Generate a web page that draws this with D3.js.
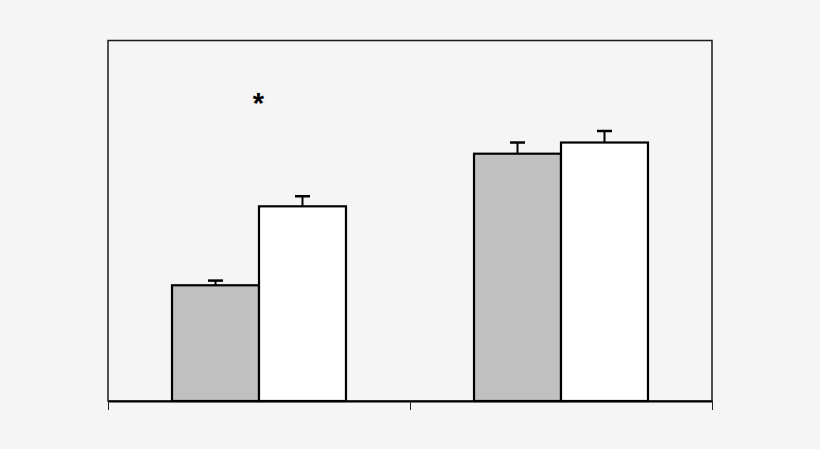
<!DOCTYPE html>
<html><head><meta charset="utf-8">
<script src="https://cdn.jsdelivr.net/npm/d3@7"></script>
<style>html,body{margin:0;padding:0;background:#f5f5f5;}svg{display:block;}</style>
</head><body>
<svg id="c" width="820" height="449"></svg>
<script>
const groups = ["A", "B"];
const series = ["Control", "Treated"];
const values = [[32.1, 54.0], [68.6, 71.7]];
const errors = [[1.3, 2.8], [3.1, 3.2]];
const fills = ["#c0c0c0", "#ffffff"];
const annotations = [{group: "A", series: "Control", text: "*", value: 80}];

(function () {
const svg = d3.select("#c");
const mLeft = 108, mRight = 712, mTop = 40.5, mBottom = 401;
const y = d3.scaleLinear().domain([0, 100]).range([mBottom, mTop]);
const x0 = d3.scaleBand().domain(groups).range([mLeft, mRight]);
const bw = x0.bandwidth();
const inner = bw * 0.576;
const x1 = d3.scaleBand().domain(series).range([(bw - inner) / 2, (bw + inner) / 2]);

svg.append("rect").attr("x", mLeft).attr("y", mTop).attr("width", mRight - mLeft).attr("height", mBottom - mTop)
  .attr("fill", "#f5f5f5").attr("stroke", "#1a1a1a").attr("stroke-width", 1.5);

const g = svg.selectAll("g.grp").data(groups).enter().append("g")
  .attr("transform", d => `translate(${x0(d)},0)`);

series.forEach((s, si) => {
  g.append("rect")
    .attr("x", x1(s)).attr("width", x1.bandwidth())
    .attr("y", (d, gi) => y(values[gi][si]))
    .attr("height", (d, gi) => y(0) - y(values[gi][si]))
    .attr("fill", fills[si]).attr("stroke", "#000").attr("stroke-width", 2.2);
  g.append("line")
    .attr("x1", x1(s) + x1.bandwidth() / 2).attr("x2", x1(s) + x1.bandwidth() / 2)
    .attr("y1", (d, gi) => y(values[gi][si]))
    .attr("y2", (d, gi) => y(values[gi][si] + errors[gi][si]))
    .attr("stroke", "#000").attr("stroke-width", 2);
  g.append("line")
    .attr("x1", x1(s) + x1.bandwidth() / 2 - 7.5).attr("x2", x1(s) + x1.bandwidth() / 2 + 7.5)
    .attr("y1", (d, gi) => y(values[gi][si] + errors[gi][si]))
    .attr("y2", (d, gi) => y(values[gi][si] + errors[gi][si]))
    .attr("stroke", "#000").attr("stroke-width", 2.5);
});

annotations.forEach(a => {
  svg.append("text")
    .attr("x", x0(a.group) + x1(a.series) + x1.bandwidth() - 0.5)
    .attr("y", y(a.value))
    .attr("text-anchor", "middle")
    .attr("font-family", "Liberation Sans, Arial, sans-serif")
    .attr("font-size", 29).attr("font-weight", "bold")
    .attr("fill", "#000").text(a.text);
});

const tickPos = groups.map(d => x0(d)).concat([mRight]);
const xAxis = d3.axisBottom(d3.scaleLinear().domain([mLeft, mRight]).range([mLeft, mRight]))
  .tickValues(tickPos).tickFormat("").tickSize(9).tickSizeOuter(0);
const ax = svg.append("g").attr("transform", `translate(0,${mBottom})`).call(xAxis);
ax.select(".domain").attr("stroke", "#000").attr("stroke-width", 2.2);
ax.selectAll(".tick line").attr("stroke", "#222").attr("stroke-width", 1);
})();
</script>
</body></html>
